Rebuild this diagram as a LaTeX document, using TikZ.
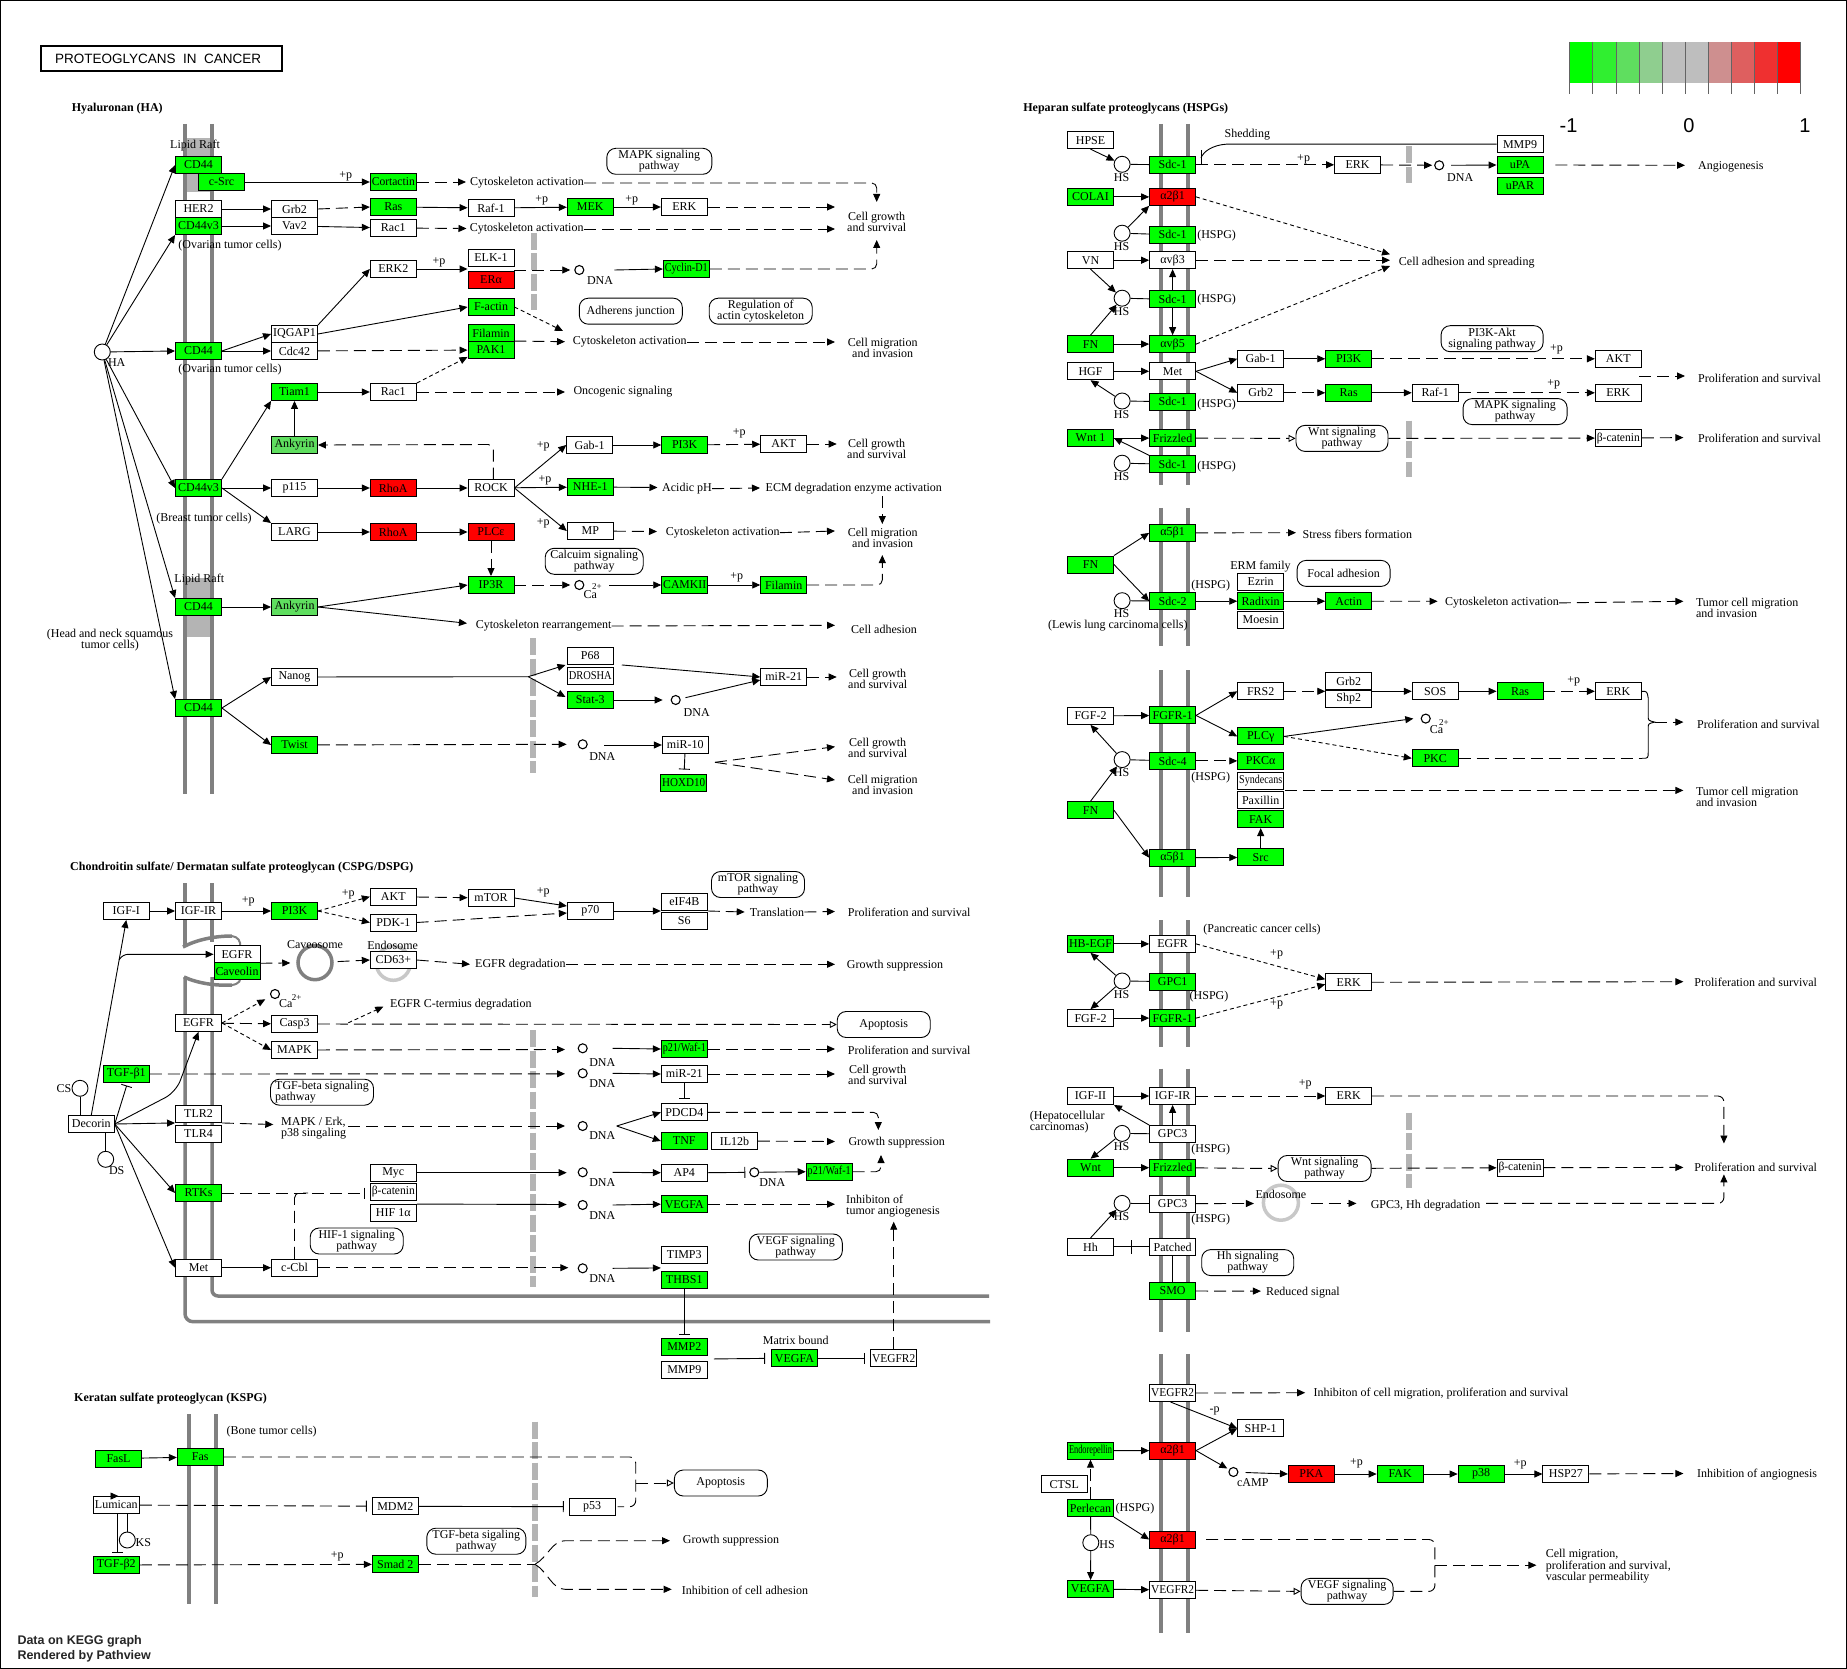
\documentclass[tikz,border=0pt]{standalone}
\usepackage{fontspec}
\setmainfont{Liberation Serif}
\newfontfamily\sansfont{Liberation Sans}
\usepackage{graphicx}
\usetikzlibrary{arrows.meta}

\definecolor{kg}{RGB}{0,255,0}
\definecolor{kr}{RGB}{255,0,0}
\definecolor{kl}{RGB}{95,222,95}
\definecolor{memc}{RGB}{128,128,128}
\definecolor{raftc}{RGB}{180,180,180}
\definecolor{endoc}{RGB}{200,200,200}
\definecolor{ltick}{RGB}{100,100,100}
\definecolor{lgA}{RGB}{0,255,0}
\definecolor{lgB}{RGB}{48,239,48}
\definecolor{lgC}{RGB}{95,222,95}
\definecolor{lgD}{RGB}{143,206,143}
\definecolor{lgE}{RGB}{190,190,190}
\definecolor{lgF}{RGB}{190,190,190}
\definecolor{lgG}{RGB}{206,143,143}
\definecolor{lgH}{RGB}{222,95,95}
\definecolor{lgI}{RGB}{239,48,48}
\definecolor{lgJ}{RGB}{255,0,0}

% squeeze a box label horizontally when it is wider than the box
\newsavebox\fitbx
\newdimen\fitw
\newcommand\fitt[1]{\sbox\fitbx{#1}\fitw=\wd\fitbx\ifdim\fitw>43pt\pgfmathsetmacro\fitr{43/\fitw}\scalebox{\fitr}[1]{\usebox\fitbx}\else\usebox\fitbx\fi}

\newcommand\boxG[3]{\node[gb] (#1) at (#2) {\fitt{#3}};}
\newcommand\boxW[3]{\node[wb] (#1) at (#2) {\fitt{#3}};}
\newcommand\boxR[3]{\node[rb] (#1) at (#2) {\fitt{#3}};}
\newcommand\boxL[3]{\node[lb] (#1) at (#2) {\fitt{#3}};}

\tikzset{
 box/.style={draw=black, line width=0.9pt, minimum width=46pt, minimum height=17pt, inner sep=0pt, font=\fontsize{12}{12}\selectfont},
 gb/.style={box, fill=kg}, wb/.style={box, fill=white}, rb/.style={box, fill=kr}, lb/.style={box, fill=kl},
 lab/.style={inner sep=0pt, font=\fontsize{12}{11}\selectfont, align=center},
 labw/.style={lab, anchor=west},
 labl/.style={lab, align=left, anchor=west},
 sup/.style={inner sep=0pt, font=\fontsize{9}{9}\selectfont},
 hd/.style={inner sep=0pt, anchor=west, font=\bfseries\fontsize{12}{12}\selectfont},
 pw/.style={draw, line width=0.9pt, rounded corners=9pt, inner sep=0pt, minimum height=26pt, font=\fontsize{12}{11}\selectfont, align=center},
 hc/.style={circle, draw, fill=white, line width=0.9pt, minimum size=16pt, inner sep=0pt},
 dc/.style={circle, draw, fill=white, line width=1.1pt, minimum size=9pt, inner sep=0pt},
 cn/.style={line width=0.9pt},
 act/.style={cn, -{Triangle[length=8pt,width=7pt]}},
 dsh/.style={dash pattern=on 12pt off 6pt},
 fdsh/.style={dash pattern=on 4pt off 3pt},
 dact/.style={act, dsh},
 fact/.style={act, fdsh},
 inh/.style={cn, -{Bar[width=11pt,line width=0.9pt]}},
 dinh/.style={inh, dsh},
 oact/.style={cn, dsh, -{Triangle[open,length=7pt,width=7pt,line width=0.9pt]}},
 dln/.style={cn, dsh},
 mem/.style={draw=memc, line width=3.5pt},
 thinmem/.style={draw=memc, line width=2pt},
 gbar/.style={draw=raftc, line width=6pt, dash pattern=on 17pt off 3.5pt},
 vesc/.style={circle, line width=3.5pt, minimum size=34pt, inner sep=0pt},
}

\begin{document}
\begin{tikzpicture}[x=1pt,y=-1pt]
\useasboundingbox (0,0) rectangle (1847,1669);
\fill[white] (0,0) rectangle (1847,1669);
\draw[line width=1.2pt] (0.6,0.6) rectangle (1846.4,1668.4);

% ---------- title, headings, legend ----------
\draw[line width=2pt] (40.7,45.7) rectangle (282.3,71);
\node[anchor=west, inner sep=0pt, font=\sansfont\fontsize{13.5}{13.5}\selectfont] (title) at (55,58.5) {PROTEOGLYCANS\ \ IN\ \ CANCER};
\node[hd] (h_ha) at (71.7,109) {Hyaluronan (HA)};
\node[hd] (h_cs) at (70,867.7) {Chondroitin sulfate/ Dermatan sulfate proteoglycan (CSPG/DSPG)};
\node[hd] (h_ks) at (74,1399) {Keratan sulfate proteoglycan (KSPG)};
\node[hd] (h_hs) at (1023.2,108.9) {Heparan sulfate proteoglycans (HSPGs)};

\foreach \c [count=\i from 0] in {lgA,lgB,lgC,lgD,lgE,lgF,lgG,lgH,lgI,lgJ}
  \fill[\c] (1569.9+\i*23.07,41.8) rectangle ++(23.07,41);
\foreach \i in {0,...,10}
  \draw[draw=ltick, line width=1pt] (1569.9+\i*23.07,41.8) -- (1569.9+\i*23.07,93.6);
\node[inner sep=0pt, font=\sansfont\fontsize{20}{20}\selectfont] (lg_m) at (1568.5,126) {-1};
\node[inner sep=0pt, font=\sansfont\fontsize{20}{20}\selectfont] (lg_z) at (1688.9,126) {0};
\node[inner sep=0pt, font=\sansfont\fontsize{20}{20}\selectfont] (lg_p) at (1805,126) {1};

\node[anchor=west, align=left, inner sep=0pt, text=black!85, font=\sansfont\bfseries\fontsize{12.5}{15}\selectfont] (pv) at (17.3,1649.2) {Data on KEGG graph\\Rendered by Pathview};

% ---------- membranes and rafts ----------
\fill[raftc] (186,138) rectangle (210,192);
\fill[raftc] (186,578) rectangle (210,637);
\draw[mem] (185,124) -- (185,794);
\draw[mem] (212,124) -- (212,794);

% plasma membrane with a caveola pocket
\draw[mem] (185,883.3) -- (185,947);
\draw[mem] (212,883.3) -- (212,942);
\draw[mem, rounded corners=8pt] (185,977) -- (185,1321.7) -- (990,1321.7);
\draw[mem, rounded corners=6pt] (212,977) -- (212,1296) -- (989,1296);
\draw[mem] (183,947) .. controls (196,940) and (214,936) .. (232,936);
\draw[thinmem] (232,936) .. controls (238,937) and (241,941) .. (240,947);
\draw[mem] (184,977) .. controls (197,983) and (215,986) .. (232,985);
\draw[thinmem] (232,985) .. controls (239,984) and (242,980) .. (239,976);

\draw[mem] (189,1414.3) -- (189,1604.3);
\draw[mem] (216,1414.3) -- (216,1604.3);

\foreach \a/\b in {124/484.6, 507.8/646.4, 670.3/897.1, 920.3/1047.1, 1068.5/1332.3, 1354/1632.7}{
  \draw[mem] (1161,\a) -- (1161,\b);
  \draw[mem] (1188,\a) -- (1188,\b);}

% nuclear envelope marks
\draw[gbar] (533.7,233) -- (533.7,310);
\draw[gbar] (532.7,638) -- (532.7,773);
\draw[gbar] (532.7,1030) -- (532.7,1287);
\draw[gbar] (535,1421.7) -- (535,1597.3);
\draw[gbar] (1408.9,146.4) -- (1408.9,182.8);
\draw[gbar] (1408.9,420.7) -- (1408.9,476.7);
\draw[gbar] (1408.9,1112.7) -- (1408.9,1188.2);

% ================= Hyaluronan =================
\boxG{ha_cd44a}{198.5,165}{CD44}
\boxG{ha_csrc}{221.5,182}{c-Src}
\boxW{ha_her2}{198.5,209}{HER2}
\boxG{ha_cd44v3a}{198.5,226}{CD44v3}
\boxW{ha_grb2}{294.5,209}{Grb2}
\boxW{ha_vav2}{294.5,226}{Vav2}
\boxG{ha_cort}{393.3,182}{Cortactin}
\boxG{ha_ras}{393.3,207}{Ras}
\boxW{ha_rac1a}{393.3,228}{Rac1}
\boxW{ha_raf1}{491,208}{Raf-1}
\boxG{ha_mek}{590.3,207}{MEK}
\boxW{ha_erk}{684.3,207}{ERK}
\boxW{ha_erk2}{393.3,269}{ERK2}
\boxW{ha_elk1}{491,258}{ELK-1}
\boxR{ha_era}{491,280}{ERα}
\boxG{ha_cyclin}{686.3,269}{Cyclin-D1}
\boxG{ha_factin}{491,307}{F-actin}
\boxG{ha_filamin}{491,333}{Filamin}
\boxG{ha_pak1}{491,350}{PAK1}
\boxW{ha_iqgap}{294.5,334}{IQGAP1}
\boxW{ha_cdc42}{294.5,351}{Cdc42}
\boxG{ha_cd44b}{198.5,351}{CD44}
\boxG{ha_tiam}{294.5,392}{Tiam1}
\boxW{ha_rac1b}{393.3,392}{Rac1}
\boxL{ha_ank1}{294.5,445}{Ankyrin}
\boxG{ha_cd44v3b}{198.5,488}{CD44v3}
\boxW{ha_p115}{294.5,488}{p115}
\boxR{ha_rhoa1}{393.3,488}{RhoA}
\boxW{ha_rock}{491,488}{ROCK}
\boxW{ha_larg}{294.5,532}{LARG}
\boxR{ha_rhoa2}{393.3,532}{RhoA}
\boxR{ha_plce}{491,532}{PLCε}
\boxG{ha_ip3r}{491,585}{IP3R}
\boxW{ha_gab1}{589.7,445}{Gab-1}
\boxG{ha_pi3k}{684.7,445}{PI3K}
\boxW{ha_akt}{783.7,444}{AKT}
\boxG{ha_nhe}{590.3,487}{NHE-1}
\boxW{ha_mp}{590.3,531}{MP}
\boxG{ha_camk}{684.7,585}{CAMKII}
\boxG{ha_fil2}{783.7,585}{Filamin}
\boxG{ha_cd44c}{198.5,607}{CD44}
\boxL{ha_ank2}{294.5,607}{Ankyrin}
\boxG{ha_cd44d}{198.5,708}{CD44}
\boxW{ha_nanog}{294.5,677}{Nanog}
\boxG{ha_twist}{294.5,745}{Twist}
\boxW{ha_p68}{590.3,656}{P68}
\boxW{ha_drosha}{590.3,676}{DROSHA}
\boxG{ha_stat3}{590.3,700}{Stat-3}
\boxW{ha_mir21}{783.7,677}{miR-21}
\boxW{ha_mir10}{685.3,745}{miR-10}
\boxG{ha_hoxd}{683.7,783}{HOXD10}

\node[hc] (ha) at (102.3,352) {};
\node[lab] (ha_l) at (116.7,363) {HA};
\node[dc] (ha_d1) at (579.3,270) {};
\node[lab] (ha_d1l) at (600,281) {DNA};
\node[dc] (ha_ca) at (579.3,585) {};
\node[lab] (ha_cal) at (590.3,595) {Ca};
\node[sup] (ha_ca2) at (597,587) {2+};
\node[dc] (ha_d2) at (675.7,700) {};
\node[lab] (ha_d2l) at (696.7,712.3) {DNA};
\node[dc] (ha_d3) at (582.7,744.3) {};
\node[lab] (ha_d3l) at (602.3,756.7) {DNA};

\node[lab] (ha_lr1) at (195,146) {Lipid Raft};
\node[lab] (ha_ov1) at (230,246) {(Ovarian tumor cells)};
\node[lab] (ha_ov2) at (230,370) {(Ovarian tumor cells)};
\node[lab] (ha_br) at (204,519) {(Breast tumor cells)};
\node[lab] (ha_lr2) at (199.3,580) {Lipid Raft};
\node[lab] (ha_hn) at (110,640) {(Head and neck squamous\\tumor cells)};
\node[labw] (ha_cy1) at (470,183) {Cytoskeleton activation};
\node[labw] (ha_cy2) at (469.7,229) {Cytoskeleton activation};
\node[lab] (ha_cg1) at (876.7,222) {Cell growth\\and survival};
\node[labw] (ha_cy3) at (572.7,342) {Cytoskeleton activation};
\node[lab] (ha_cm1) at (882.7,348.3) {Cell migration\\and invasion};
\node[labw] (ha_onc) at (573.3,392) {Oncogenic signaling};
\node[lab] (ha_cg2) at (876.7,449.3) {Cell growth\\and survival};
\node[lab] (ha_acid) at (687,488.7) {Acidic pH};
\node[lab] (ha_ecm) at (853.8,488.3) {ECM degradation enzyme activation};
\node[lab] (ha_cm2) at (882.7,537.7) {Cell migration\\and invasion};
\node[lab] (ha_cy4) at (722.8,532.7) {Cytoskeleton activation};
\node[labw] (ha_cyr) at (475.7,626) {Cytoskeleton rearrangement};
\node[lab] (ha_cad) at (884,629) {Cell adhesion};
\node[lab] (ha_cg3) at (877.7,679.3) {Cell growth\\and survival};
\node[lab] (ha_cg4) at (877.7,748.3) {Cell growth\\and survival};
\node[lab] (ha_cm3) at (882.7,785) {Cell migration\\and invasion};
\node[lab] (ha_p1) at (345.7,176) {+p};
\node[lab] (ha_p2) at (439,262) {+p};
\node[lab] (ha_p3) at (541.7,200) {+p};
\node[lab] (ha_p4) at (631.7,200) {+p};
\node[lab] (ha_p5) at (543.3,446) {+p};
\node[lab] (ha_p6) at (545,480) {+p};
\node[lab] (ha_p7) at (543.3,523.3) {+p};
\node[lab] (ha_p8) at (739.3,433) {+p};
\node[lab] (ha_p9) at (736.7,577) {+p};

\node[pw, minimum width=105pt] (ha_pmapk) at (659.3,161.3) {MAPK signaling\\pathway};
\node[pw, minimum width=103pt] (ha_padh) at (630.8,311.2) {Adherens junction};
\node[pw, minimum width=103pt] (ha_preg) at (760.7,311.2) {Regulation of\\actin cytoskeleton};
\node[pw, minimum width=98pt] (ha_pcal) at (594.2,561.3) {Calcuim signaling\\pathway};

\draw[act] (ha) -- (ha_cd44a.west);
\draw[act] (ha) -- (ha_cd44v3a.south west);
\draw[act] (ha) -- (ha_cd44b.west);
\draw[act] (ha) -- (ha_cd44v3b.west);
\draw[act] (ha) -- (ha_cd44c.north west);
\draw[act] (ha) -- (ha_cd44d.north west);
\draw[act] (ha_csrc) -- (ha_cort);
\draw[act] (ha_her2) -- (ha_grb2);
\draw[act] (ha_cd44v3a) -- (ha_vav2);
\draw[dact] (ha_grb2.east) -- (ha_ras.west);
\draw[act] (ha_vav2) -- (ha_rac1a);
\draw[dact] (ha_cort) -- (466,182);
\draw[dact] (ha_rac1a) -- (466.5,228.5);
\draw[act] (ha_ras) -- (ha_raf1);
\draw[act] (ha_raf1) -- (ha_mek);
\draw[act] (ha_mek) -- (ha_erk);
\draw[dact] (ha_erk) -- (835,207);
\draw[dact, rounded corners=5pt] (ha_cy1.east) -- (876.7,183) -- (876.7,202);
\draw[dact] (ha_cy2.east) -- (835,229);
\draw[act] (ha_cd44b.east) -- (ha_iqgap.west);
\draw[act] (ha_cd44b) -- (ha_cdc42);
\draw[act] (ha_iqgap.north east) -- (ha_erk2.west);
\draw[act] (ha_iqgap.east) -- (ha_factin.west);
\draw[dact] (ha_cdc42) -- (ha_pak1);
\draw[act] (ha_erk2) -- (ha_erk2 -| ha_elk1.west);
\draw[dact, shorten >=4pt] (ha_d1 -| ha_elk1.east) -- (ha_d1);
\draw[act] ([xshift=35pt]ha_d1.center) -- (ha_cyclin.west);
\draw[dact, rounded corners=5pt] (ha_cyclin.east) -- (876.7,269) -- (876.7,240);
\draw[fact] (ha_factin.east) -- (563,331);
\draw[dact] (ha_pak1.north east) -- (565,341.7);
\draw[dact] (ha_cy3.east) -- (835,342);
\draw[dact] (ha_rac1b) -- (565,392);
\draw[fact] (ha_rac1b.north east) -- ([yshift=2pt]ha_pak1.south west);
\draw[act] (ha_cd44v3b.north east) -- (ha_tiam.south west);
\draw[act] (ha_tiam) -- (ha_rac1b);
\draw[act] (ha_ank1) -- (ha_tiam);
\draw[act] (ha_cd44v3b) -- (ha_p115);
\draw[act] (ha_cd44v3b.east) -- (ha_larg.north west);
\draw[act] (ha_p115) -- (ha_rhoa1);
\draw[act] (ha_rhoa1) -- (ha_rock);
\draw[act] (ha_larg) -- (ha_rhoa2);
\draw[act] (ha_rhoa2) -- (ha_plce);
\draw[dact] (ha_plce) -- (ha_ip3r);
\draw[dact, rounded corners=5pt] (493.3,479.5) -- (493.3,444.5) -- (ha_ank1.east);
\draw[act] (ha_rock.east) -- (ha_gab1.west);
\draw[act] (ha_rock) -- (ha_nhe);
\draw[act] (ha_rock.east) -- (ha_mp.west);
\draw[act] (ha_gab1) -- (ha_pi3k);
\draw[dact] (ha_pi3k) -- (ha_akt);
\draw[dact] (ha_akt) -- (836.7,444);
\draw[act] (ha_nhe) -- (657.5,487.5);
\draw[dact] (ha_acid.east) -- (760,488);
\draw[dact] (882.3,496) -- (882.3,524);
\draw[dact] (ha_mp) -- (657,531.5);
\draw[dact] (ha_cy4.east) -- (835,531);
\draw[dact, shorten >=4pt] (ha_ip3r) -- (ha_ca);
\draw[act] (609,585) -- (ha_camk.west);
\draw[act] (ha_camk) -- (ha_fil2);
\draw[dact, rounded corners=5pt] (ha_fil2.east) -- (882.3,585) -- (882.3,555);
\draw[act] (ha_cd44c) -- (ha_ank2);
\draw[act] (ha_ank2.east) -- (ha_ip3r.west);
\draw[act] (ha_ank2.east) -- (467,623.3);
\draw[dact] (ha_cyr.east) -- (835,625.3);
\draw[act] (ha_cd44d.east) -- (ha_nanog.west);
\draw[act] (ha_cd44d.east) -- (ha_twist.west);
\coordinate (ha_nb) at (528.3,676.7);
\draw[cn] (ha_nanog) -- (ha_nb);
\draw[act] (ha_nb) -- (565.5,665);
\draw[act] (ha_nb) -- (565.5,697);
\draw[act] ([xshift=8pt]ha_p68.south east) -- (ha_mir21.west);
\draw[act, shorten >=8pt] (ha_stat3) -- (ha_d2);
\draw[act, shorten <=5pt] (ha_d2) -- ([yshift=-3pt]ha_mir21.west);
\draw[dact] (ha_mir21) -- (836.7,677);
\draw[dact] (ha_twist) -- (566.7,744.3);
\draw[act] (604,745) -- (ha_mir10.west);
\draw[inh, shorten >=4.5pt] (ha_mir10) -- (ha_hoxd);
\coordinate (ha_mb) at (715,762.3);
\draw[dact] (ha_mb) -- (835,746.7);
\draw[dact] (ha_mb) -- (835,780);

% ================= CSPG / DSPG =================
\node[vesc, draw=memc] (cs_cvs) at (315,962.7) {};
\node[vesc, draw=endoc] (cs_endo) at (393.3,963.3) {};
\boxW{cs_igf1}{126.3,911}{IGF-I}
\boxW{cs_igf1r}{198.5,911}{IGF-IR}
\boxG{cs_pi3k}{294.5,911}{PI3K}
\boxW{cs_akt}{393.3,896.7}{AKT}
\boxW{cs_pdk1}{393.3,922.5}{PDK-1}
\boxW{cs_mtor}{491,898}{mTOR}
\boxW{cs_p70}{590.3,911}{p70}
\boxW{cs_eif}{684.3,901.5}{eIF4B}
\boxW{cs_s6}{684.3,921}{S6}
\boxW{cs_egfr1}{237,954.3}{EGFR}
\boxG{cs_cav}{237,971.3}{Caveolin}
\boxW{cs_cd63}{393.3,960}{CD63+}
\boxW{cs_egfr2}{198.5,1023}{EGFR}
\boxW{cs_casp3}{294.5,1024}{Casp3}
\boxW{cs_mapk}{294.5,1050}{MAPK}
\boxG{cs_tgfb1}{126.3,1074}{TGF-β1}
\boxW{cs_dec}{91.3,1124}{Decorin}
\boxW{cs_tlr2}{198.5,1114}{TLR2}
\boxW{cs_tlr4}{198.5,1134}{TLR4}
\boxG{cs_rtks}{198.5,1193}{RTKs}
\boxW{cs_myc}{393.3,1172.7}{Myc}
\boxW{cs_bcat}{393.3,1192}{β-catenin}
\boxW{cs_hif}{393.3,1213}{HIF 1α}
\boxW{cs_met}{198.5,1267.7}{Met}
\boxW{cs_ccbl}{294.5,1267.7}{c-Cbl}
\boxG{cs_p21a}{684.3,1049}{p21/Waf-1}
\boxW{cs_mir21}{684.3,1074}{miR-21}
\boxW{cs_pdcd4}{684.3,1112.3}{PDCD4}
\boxG{cs_tnf}{684.3,1141}{TNF}
\boxW{cs_il12}{734.5,1141}{IL12b}
\boxW{cs_ap4}{684.3,1172.7}{AP4}
\boxG{cs_p21b}{829.2,1171.7}{p21/Waf-1}
\boxG{cs_vegfa}{684.3,1204.2}{VEGFA}
\boxW{cs_timp3}{684.3,1255}{TIMP3}
\boxG{cs_thbs1}{684.3,1280}{THBS1}
\boxG{cs_mmp2}{684.3,1347}{MMP2}
\boxW{cs_mmp9}{684.3,1369.7}{MMP9}
\boxG{cs_vegfa2}{794.5,1358.3}{VEGFA}
\boxW{cs_vegfr2}{893.7,1358.3}{VEGFR2}

\node[lab] (cs_cvsl) at (315,945) {Caveosome};
\node[lab] (cs_endl) at (392.7,945) {Endosome};
\node[dc] (cs_ca) at (275,994) {};
\node[lab] (cs_cal) at (285.7,1004) {Ca};
\node[sup] (cs_ca2) at (296.7,997.7) {2+};
\node[hc] (cs_cs) at (80,1088.3) {};
\node[lab] (cs_csl) at (64,1088.3) {CS};
\node[hc] (cs_ds) at (105.7,1159.3) {};
\node[lab] (cs_dsl) at (116.7,1171) {DS};
\foreach \n/\x/\y/\ly in {cs_d1/582.7/1048.3/1062.3, cs_d2/582.7/1073.3/1083.3, cs_d3/582.7/1126/1136, cs_d4/582.7/1172.3/1182.3, cs_d6/582.7/1205/1215.7, cs_d7/582.7/1268.3/1279}{
  \node[dc] (\n) at (\x,\y) {};
  \node[lab] (\n l) at (\x+19.6,\ly) {DNA};}
\node[dc] (cs_d5) at (754.3,1172.3) {};
\node[lab] (cs_d5l) at (772.3,1182.3) {DNA};

\node[labw] (cs_egd) at (475,964.3) {EGFR degradation};
\node[labw] (cs_gs1) at (846.7,965.7) {Growth suppression};
\node[labw] (cs_ctd) at (390,1004.3) {EGFR C-termius degradation};
\node[labw] (cs_pf1) at (847.7,912.7) {Proliferation and survival};
\node[lab] (cs_tr) at (777,912) {Translation};
\node[pw, minimum width=93pt] (cs_apop) at (883.7,1024.5) {Apoptosis};
\node[labw] (cs_pf2) at (847.7,1050) {Proliferation and survival};
\node[lab] (cs_cg) at (877.7,1075) {Cell growth\\and survival};
\node[labl] (cs_me) at (281,1128.3) {MAPK / Erk,\\p38 singaling};
\node[labw] (cs_gs2) at (848.3,1142.7) {Growth suppression};
\node[labl] (cs_inh) at (846,1205.7) {Inhibiton of\\tumor angiogenesis};
\node[lab] (cs_mbd) at (795.7,1340) {Matrix bound};
\node[pw, minimum width=93pt] (cs_pmtor) at (758,884.5) {mTOR signaling\\pathway};
\node[pw, minimum width=103pt, align=left] (cs_ptgf) at (322,1092.2) {TGF-beta signaling\\pathway};
\node[pw, minimum width=93pt] (cs_phif) at (356.7,1241) {HIF-1 signaling\\pathway};
\node[pw, minimum width=93pt] (cs_pvegf) at (795.8,1247) {VEGF signaling\\pathway};
\node[lab] (cs_p1) at (248.3,901.7) {+p};
\node[lab] (cs_p2) at (348.3,894) {+p};
\node[lab] (cs_p3) at (543.3,892.7) {+p};

\draw[act] (cs_igf1) -- (cs_igf1r);
\draw[act] (cs_igf1r) -- (cs_pi3k);
\draw[fact] (cs_pi3k.east) -- (cs_akt.west);
\draw[fact] (cs_pi3k.east) -- (cs_pdk1.west);
\draw[dact] (cs_akt) -- (cs_mtor);
\draw[act] (cs_mtor.east) -- ([yshift=5pt]cs_p70.west);
\draw[dact] (cs_pdk1.east) -- ([yshift=-2pt]cs_p70.west);
\draw[act] (cs_p70) -- (cs_p70 -| cs_eif.west);
\draw[dact] (cs_p70 -| cs_eif.east) -- ([xshift=-5pt]cs_tr.west);
\draw[dact] (cs_tr.east) -- (835,911.5);
\draw[act] (cs_dec.north) -- (cs_igf1.south);
\draw[act, rounded corners=5pt] (119.1,960) -- (123,954.3) -- (cs_egfr1.west);
\draw[dact, shorten >=6pt] (cs_egfr1.south east) -- (cs_cvs);
\draw[dact, shorten <=4pt] (cs_cvs) -- (cs_cd63.west);
\draw[dact] (cs_cd63.east) -- (470,964.3);
\draw[dact] (cs_egd.east) -- (835,964.3);
\draw[act, rounded corners=12pt] (cs_dec.east) -- (176,1092) -- (cs_egfr2.south);
\draw[fact, shorten >=6pt] (cs_egfr2.east) -- (cs_ca);
\draw[dact] (cs_egfr2) -- (cs_casp3);
\draw[fact] (cs_egfr2.east) -- (cs_mapk.west);
\draw[oact] (cs_casp3) -- (cs_apop.west);
\draw[fact] (348.3,1022.8) -- (383.3,1006.7);
\draw[dact] (cs_mapk) -- (565,1049.5);
\draw[act] ([xshift=30pt]cs_d1.center) -- (cs_p21a.west);
\draw[dact] (cs_p21a) -- (835,1049);
\draw[dact] (cs_tgfb1.east) -- (565,1073.8);
\draw[act] ([xshift=30pt]cs_d2.center) -- (cs_mir21.west);
\draw[dact] (cs_mir21) -- (835,1074);
\draw[inh, shorten >=4pt] (cs_mir21) -- (cs_pdcd4);
\draw[inh] (cs_dec.east) -- (126.7,1085.5);
\draw[cn] (cs_cs.south) -- (cs_cs.south |- cs_dec.north);
\draw[cn] (cs_ds.north) -- (cs_ds.north |- cs_dec.south);
\draw[act] (cs_dec.east) -- (cs_tlr2.south west);
\draw[dact] (cs_tlr2.south east) -- (273.3,1124.5);
\draw[dact] (348.3,1126) -- (565,1126);
\coordinate (cs_tb) at (616.7,1126);
\draw[act] (cs_tb) -- (cs_pdcd4.west);
\draw[act] (cs_tb) -- (cs_tnf.west);
\draw[dact] (cs_il12) -- (835,1141.5);
\draw[dact, rounded corners=5pt] (cs_pdcd4.east) -- (878.3,1112.3) -- (878.3,1130);
\draw[act] (cs_dec.east) -- (cs_rtks.west);
\draw[act] (cs_dec.east) -- (cs_met.west);
\draw[dinh, shorten >=5pt] (cs_rtks.east) -- (cs_rtks.east -| cs_bcat.west);
\draw[dln, rounded corners=5pt] (cs_ccbl.north) -- (294.5,1193) -- (308,1193);
\draw[act] (cs_myc.east) -- (566.7,1172.7);
\draw[act] (cs_hif.north east) -- (566.7,1204.5);
\draw[act] ([xshift=30pt]cs_d4.center) -- (cs_ap4.west);
\draw[inh, shorten >=4pt] (cs_ap4.east) -- (cs_d5);
\draw[act] (cs_d5) -- (cs_p21b.west);
\draw[dact, rounded corners=5pt] (cs_p21b.east) -- (881,1171.7) -- (881,1155);
\draw[act] ([xshift=30pt]cs_d6.center) -- (cs_vegfa.west);
\draw[dact] (cs_vegfa) -- (835,1204.2);
\draw[act] (cs_met) -- (cs_ccbl);
\draw[dact] (cs_ccbl) -- (568.3,1267.7);
\draw[act] ([xshift=30pt]cs_d7.center) -- ([yshift=-4pt]cs_timp3.south west);
\draw[inh, shorten >=3.5pt] (cs_thbs1) -- (cs_mmp2);
\draw[inh, shorten >=6pt] ([xshift=6pt,yshift=-3pt]cs_mmp2.south east) -- (cs_vegfa2.west);
\draw[inh, shorten >=5pt] (cs_vegfa2) -- (cs_vegfr2);
\draw[dact] (cs_vegfr2.north) -- (893.7,1221.7);

% ================= KSPG =================
\boxG{ks_fasl}{118.5,1458.5}{FasL}
\boxG{ks_fas}{200.3,1457}{Fas}
\boxW{ks_lum}{116.3,1505}{Lumican}
\boxW{ks_mdm2}{395.3,1506.3}{MDM2}
\boxW{ks_p53}{592.2,1506.7}{p53}
\boxG{ks_tgfb2}{116.3,1565}{TGF-β2}
\boxG{ks_smad}{395.3,1564.3}{Smad 2}
\node[hc] (ks_ks) at (127.3,1540) {};
\node[lab] (ks_ksl) at (143.3,1542.3) {KS};
\node[pw, minimum width=93pt] (ks_apop) at (720.8,1483) {Apoptosis};
\node[pw, minimum width=99pt] (ks_ptgf) at (476.3,1541.2) {TGF-beta sigaling\\pathway};
\node[lab] (ks_bone) at (271.7,1432) {(Bone tumor cells)};
\node[labw] (ks_gs) at (682.7,1540.7) {Growth suppression};
\node[labw] (ks_ica) at (681.7,1590) {Inhibition of cell adhesion};
\node[lab] (ks_pp) at (337.3,1556.7) {+p};

\draw[act] (ks_fasl) -- (ks_fas);
\draw[act] (ks_lum.north) -- (ks_lum.north -| ks_fasl.south);
\draw[dinh, shorten >=5pt] (ks_lum) -- (ks_mdm2);
\draw[inh, shorten >=5pt] (ks_mdm2) -- (ks_p53);
\draw[cn] (127.3,1513.5) -- (ks_ks.north);
\draw[inh] (117.3,1513.5) -- (117.3,1553.3);
\draw[dact] (ks_tgfb2) -- (ks_smad);
\draw[dln, rounded corners=6pt] (ks_fas.east) -- (635.7,1457) -- (635.7,1506.7) -- ([xshift=2pt]ks_p53.east);
\draw[oact] (635.7,1483) -- (ks_apop.west);
\coordinate (ks_sb) at (535,1564.3);
\draw[dln] (ks_smad.east) -- (ks_sb);
\draw[dact] (ks_sb) .. controls (548,1557) and (552,1540.7) .. (565,1540.7) -- (670,1540.7);
\draw[dact] (ks_sb) .. controls (548,1572) and (552,1589.3) .. (565,1589.3) -- (671.7,1589.3);

% ================= HSPG =================
\node[vesc, draw=endoc, minimum size=35pt] (hs_endoc) at (1280.9,1202.7) {};
\boxW{hs_hpse}{1090.5,140.2}{HPSE}
\boxG{hs_sdc1a}{1172.6,164.8}{Sdc-1}
\boxW{hs_mmp9}{1520,144.1}{MMP9}
\boxW{hs_erk1}{1357.6,164.8}{ERK}
\boxG{hs_upa}{1520,165}{uPA}
\boxG{hs_upar}{1520,185.8}{uPAR}
\boxG{hs_colai}{1090.5,196.9}{COLAI}
\boxR{hs_a2b1a}{1172.6,196.9}{α2β1}
\boxG{hs_sdc1b}{1172.6,234.8}{Sdc-1}
\boxW{hs_vn}{1090.5,260.2}{VN}
\boxW{hs_avb3}{1172.6,260.2}{αvβ3}
\boxG{hs_sdc1c}{1172.6,299.4}{Sdc-1}
\boxG{hs_fn1}{1090.5,344.1}{FN}
\boxG{hs_avb5}{1172.6,344.1}{αvβ5}
\boxW{hs_hgf}{1090.5,371.3}{HGF}
\boxW{hs_met}{1172.6,371.3}{Met}
\boxG{hs_sdc1d}{1172.6,401.7}{Sdc-1}
\boxW{hs_gab1}{1260.7,358.8}{Gab-1}
\boxG{hs_pi3k}{1348.7,358.8}{PI3K}
\boxW{hs_akt}{1618.3,358.8}{AKT}
\boxW{hs_grb2}{1260.7,392.8}{Grb2}
\boxG{hs_ras}{1348.7,392.8}{Ras}
\boxW{hs_raf1}{1435.2,392.8}{Raf-1}
\boxW{hs_erk2}{1618.3,392.8}{ERK}
\boxG{hs_wnt1}{1090.5,438.1}{Wnt 1}
\boxG{hs_fzd1}{1172.6,438.1}{Frizzled}
\boxG{hs_sdc1e}{1172.6,464.3}{Sdc-1}
\boxW{hs_bcat1}{1618.3,438.1}{β-catenin}
\boxG{hs_a5b1a}{1172.6,532.9}{α5β1}
\boxG{hs_fn2}{1090.5,564.5}{FN}
\boxG{hs_sdc2}{1172.6,601.2}{Sdc-2}
\boxW{hs_ezrin}{1260.7,582}{Ezrin}
\boxG{hs_radixin}{1260.7,601.2}{Radixin}
\boxW{hs_moesin}{1260.7,620}{Moesin}
\boxG{hs_actin}{1348.7,601.2}{Actin}
\boxW{hs_fgf2a}{1090.5,715.9}{FGF-2}
\boxG{hs_fgfr1a}{1172.6,715.4}{FGFR-1}
\boxG{hs_sdc4}{1172.6,760.9}{Sdc-4}
\boxG{hs_fn3}{1090.5,810.2}{FN}
\boxG{hs_a5b1b}{1172.6,857.7}{α5β1}
\boxW{hs_frs2}{1260.7,691.3}{FRS2}
\boxW{hs_grb2b}{1348.7,681.1}{Grb2}
\boxW{hs_shp2}{1348.7,698.9}{Shp2}
\boxW{hs_sos}{1435.2,691.3}{SOS}
\boxG{hs_ras2}{1520,691.3}{Ras}
\boxW{hs_erk3}{1618.3,691.3}{ERK}
\boxG{hs_plcg}{1260.7,736.4}{PLCγ}
\boxG{hs_pkc}{1435.2,758.3}{PKC}
\boxG{hs_pkca}{1260.7,760.9}{PKCα}
\boxW{hs_synd}{1260.7,780.6}{Syndecans}
\boxW{hs_pax}{1260.7,800.1}{Paxillin}
\boxG{hs_fak1}{1260.7,819.1}{FAK}
\boxG{hs_src}{1260.7,857.4}{Src}
\boxG{hs_hbegf}{1090.5,943.9}{HB-EGF}
\boxW{hs_egfr}{1172.6,943.9}{EGFR}
\boxG{hs_gpc1}{1172.6,981.6}{GPC1}
\boxW{hs_fgf2b}{1090.5,1018.1}{FGF-2}
\boxG{hs_fgfr1b}{1172.6,1018.1}{FGFR-1}
\boxW{hs_erk4}{1348.7,982.3}{ERK}
\boxW{hs_igf2}{1090.5,1096}{IGF-II}
\boxW{hs_igf1r}{1172.6,1096}{IGF-IR}
\boxW{hs_erk5}{1348.7,1096}{ERK}
\boxW{hs_gpc3a}{1172.6,1134}{GPC3}
\boxG{hs_wnt}{1090.5,1167.7}{Wnt}
\boxG{hs_fzd2}{1172.6,1167.7}{Frizzled}
\boxW{hs_bcat2}{1520,1167.7}{β-catenin}
\boxW{hs_gpc3b}{1172.6,1203.6}{GPC3}
\boxW{hs_hh}{1090.5,1246.9}{Hh}
\boxW{hs_ptch}{1172.6,1246.9}{Patched}
\boxG{hs_smo}{1172.6,1291}{SMO}
\boxW{hs_vegfr2a}{1172.6,1393.1}{VEGFR2}
\boxW{hs_shp1}{1260.7,1428.4}{SHP-1}
\boxG{hs_endo}{1090.5,1450.7}{Endorepellin}
\boxR{hs_a2b1b}{1172.6,1450.6}{α2β1}
\boxR{hs_pka}{1311.4,1474}{PKA}
\boxG{hs_fak2}{1400.1,1474}{FAK}
\boxG{hs_p38}{1481.1,1474}{p38}
\boxW{hs_hsp27}{1565.9,1474}{HSP27}
\boxW{hs_ctsl}{1064.3,1484.1}{CTSL}
\boxG{hs_perl}{1090.5,1508.1}{Perlecan}
\boxR{hs_a2b1c}{1172.6,1539.5}{α2β1}
\boxG{hs_vegfa}{1090.5,1589}{VEGFA}
\boxW{hs_vegfr2b}{1172.6,1590}{VEGFR2}

\foreach \n/\y in {hc1/164.3, hc2/233.2, hc3/298.2, hc4/401, hc5/463.2, hc6/600.7, hc7/759.6, hc8/981, hc9/1133.4, hc10/1203.4}{
  \node[hc] (\n) at (1122.1,\y) {};
  \node[lab] (\n l) at (1121.5,\y+13.2) {HS};}
\node[hc] (hc11) at (1090.8,1542.7) {};
\node[lab] (hc11l) at (1107,1544.6) {HS};
\node[dc] (hs_dna) at (1439.2,165.3) {};
\node[lab] (hs_dnal) at (1460.2,177.5) {DNA};
\node[dc] (hs_ca) at (1425.7,718.6) {};
\node[lab] (hs_cal) at (1436.5,729.3) {Ca};
\node[sup] (hs_ca2) at (1444,722.1) {2+};
\node[dc] (hs_camp) at (1233.4,1472) {};
\node[lab] (hs_campl) at (1252.8,1482.1) {cAMP};

\node[lab] (hs_shed) at (1247.4,135) {Shedding};
\node[labw] (hs_ang) at (1698,167.1) {Angiogenesis};
\node[labw] (hs_cas) at (1398.7,262.8) {Cell adhesion and spreading};
\foreach \n/\x/\y in {hs_h1/1216.6/235.7, hs_h2/1216.6/299.7, hs_h3/1216.6/404.9, hs_h4/1216.6/467, hs_h5/1210.7/585.7, hs_h6/1210.7/777.5, hs_h7/1209/997.1, hs_h8/1210.7/1149.7, hs_h9/1210.7/1219.8, hs_h10/1135/1509}
  \node[lab] (\n) at (\x,\y) {(HSPG)};
\node[labw] (hs_pf1) at (1698,378.5) {Proliferation and survival};
\node[labw] (hs_pf2) at (1698,438.5) {Proliferation and survival};
\node[labw] (hs_sff) at (1302.5,533.9) {Stress fibers formation};
\node[lab] (hs_llc) at (1117.8,625.7) {(Lewis lung carcinoma cells)};
\node[lab] (hs_erm) at (1260.4,566.8) {ERM family};
\node[lab] (hs_cya) at (1501.9,602.9) {Cytoskeleton activation};
\node[labl] (hs_tcm1) at (1695.8,607.5) {Tumor cell migration\\and invasion};
\node[labw] (hs_pf3) at (1696.9,723.9) {Proliferation and survival};
\node[labl] (hs_tcm2) at (1695.8,797) {Tumor cell migration\\and invasion};
\node[lab] (hs_panc) at (1262,929.2) {(Pancreatic cancer cells)};
\node[labw] (hs_pf4) at (1694.2,982.8) {Proliferation and survival};
\node[labl] (hs_hep) at (1029.7,1121.8) {(Hepatocellular\\carcinomas)};
\node[labw] (hs_pf5) at (1694.2,1167.1) {Proliferation and survival};
\node[lab] (hs_endl) at (1280.9,1194.4) {Endosome};
\node[labw] (hs_gpcd) at (1370.6,1205.2) {GPC3, Hh degradation};
\node[labw] (hs_red) at (1265.8,1292.3) {Reduced signal};
\node[labw] (hs_inh) at (1313.3,1393.2) {Inhibiton of cell migration, proliferation and survival};
\node[lab] (hs_mp) at (1214.5,1411) {-p};
\node[labw] (hs_ia) at (1696.9,1474.9) {Inhibition of angiognesis};
\node[labl] (hs_cmp) at (1545.6,1566.3) {Cell migration,\\proliferation and survival,\\vascular permeability};
\foreach \n/\x/\y in {hs_p1/1303.6/158.9, hs_p2/1556.4/349.2, hs_p3/1553.7/384.6, hs_p4/1573.7/681, hs_p5/1276.6/954.2, hs_p6/1276.6/1004.2, hs_p7/1305.2/1084.6, hs_p8/1356.5/1462.9, hs_p9/1520.2/1464.7}
  \node[lab] (\n) at (\x,\y) {+p};

\node[pw, minimum width=102pt] (hs_ppi3k) at (1492.1,338.7) {PI3K-Akt\\signaling pathway};
\node[pw, minimum width=104pt] (hs_pmapk) at (1515.1,411.6) {MAPK signaling\\pathway};
\node[pw, minimum width=92pt] (hs_pwnt1) at (1342,438.4) {Wnt signaling\\pathway};
\node[pw, minimum width=93pt] (hs_pfa) at (1343.6,573.4) {Focal adhesion};
\node[pw, minimum width=93pt] (hs_pwnt2) at (1324.6,1168.5) {Wnt signaling\\pathway};
\node[pw, minimum width=92pt] (hs_phh) at (1247.7,1262.6) {Hh signaling\\pathway};
\node[pw, minimum width=92pt] (hs_pvegf) at (1347.1,1591.4) {VEGF signaling\\pathway};

\draw[act] (hs_hpse.south) -- (hc1);
\draw[cn] (hc1) -- (hs_sdc1a);
\draw[cn] (hs_mmp9.west) -- (1227,144.1) .. controls (1212,145) and (1203,152) .. (1201,158);
\draw[cn] (1201,150) -- (1201,164);
\draw[dact] (hs_sdc1a) -- (hs_erk1);
\draw[dact, shorten >=2pt] (hs_erk1) -- (hs_dna);
\draw[act] (1451,165.3) -- (hs_upa.west);
\draw[dact] ([xshift=12pt]hs_upa.east) -- (1685,165.3);
\draw[act] (hs_colai) -- (hs_a2b1a);
\draw[act] (hc2) -- (hs_a2b1a.south west);
\draw[cn] (hc2) -- (hs_sdc1b);
\draw[fact] (hs_a2b1a.east) -- (1390,254.3);
\draw[act] (hs_vn) -- (hs_avb3);
\draw[dact] (hs_avb3) -- (1390,260.2);
\draw[act] (hs_vn.south) -- (hc3);
\draw[cn] (hc3) -- (hs_sdc1c);
\draw[act] (hs_sdc1c) -- (hs_avb3);
\draw[act] (hs_sdc1c) -- (hs_avb5);
\draw[act] (hs_fn1.north) -- (hc3);
\draw[act] (hs_fn1) -- (hs_avb5);
\draw[fact] (hs_avb5.east) -- (1390,266);
\draw[act] (hs_hgf) -- (hs_met);
\draw[act] (hc4) -- (hs_hgf.south);
\draw[cn] (hc4) -- (hs_sdc1d);
\draw[act] (hs_met.east) -- (hs_gab1.west);
\draw[act] (hs_met.east) -- (hs_grb2.west);
\draw[act] (hs_gab1) -- (hs_pi3k);
\draw[dact] (hs_pi3k) -- (hs_akt);
\draw[dact] (1639,376) -- (1685,376);
\draw[dact] (hs_grb2) -- (hs_ras);
\draw[act] (hs_ras) -- (hs_raf1);
\draw[dact] (hs_raf1) -- (hs_erk2);
\draw[act] (hs_wnt1) -- (hs_fzd1);
\draw[cn] (hc5) -- (hs_sdc1e);
\draw[act] (hs_sdc1e.north west) -- (hs_wnt1.east);
\draw[oact] (hs_fzd1) -- (hs_pwnt1.west);
\draw[dact] (hs_pwnt1.east) -- (hs_bcat1.west);
\draw[dact] (hs_bcat1) -- (1683.4,437.6);
\draw[dact] (hs_a5b1a) -- (1296,532.7);
\draw[act] (hs_fn2.north east) -- (hs_a5b1a.west);
\draw[act] (hs_fn2.east) -- (hs_sdc2.west);
\draw[cn] (hc6) -- (hs_sdc2);
\draw[act] (hs_sdc2) -- (hs_radixin);
\draw[act] (hs_radixin) -- (hs_actin);
\draw[dact] (hs_actin) -- (1437.6,601.3);
\draw[dact] (hs_cya.east) -- (1683.4,601.3);
\draw[act] (hs_fgf2a) -- (hs_fgfr1a);
\draw[act] (hc7) -- (hs_fgf2a.south);
\draw[cn] (hc7) -- (hs_sdc4);
\draw[act] (hs_fn3.north) -- (hc7);
\draw[act] (hs_fn3.east) -- (hs_a5b1b.west);
\draw[act] (hs_fgfr1a.east) -- (hs_frs2.west);
\draw[act] (hs_fgfr1a.east) -- (hs_plcg.west);
\draw[dact] (hs_frs2) -- (hs_frs2 -| hs_grb2b.west);
\draw[act] (hs_frs2 -| hs_grb2b.east) -- (hs_sos.west);
\draw[act] (hs_sos) -- (hs_ras2);
\draw[dact] (hs_ras2) -- (hs_erk3);
\draw[cn] (hs_erk3.east) .. controls (1647,691.3) .. (1648.2,698) -- (1648.2,716) .. controls (1648.2,720.5) .. (1654.7,722.1) .. controls (1648.2,723.7) .. (1648.2,728) -- (1648.2,752) .. controls (1648.2,758.3) .. (1642,758.3);
\draw[dln] (hs_pkc.east) -- (1642,758.3);
\draw[dact] (1654.7,722.1) -- (1683.4,722.1);
\draw[act] (hs_plcg.east) -- (1413.3,718.6);
\draw[fact] (hs_plcg.east) -- (hs_pkc.west);
\draw[dact] (hs_sdc4) -- (hs_pkca);
\draw[dact] (1284.7,790.4) -- (1683.4,790.4);
\draw[act] (hs_a5b1b) -- (hs_src);
\draw[act] (hs_src) -- (hs_fak1);
\draw[act] (hs_hbegf) -- (hs_egfr);
\draw[act] (hc8) -- (hs_hbegf.south);
\draw[act] (hc8) -- (hs_fgf2b.north);
\draw[cn] (hc8) -- (hs_gpc1);
\draw[act] (hs_fgf2b) -- (hs_fgfr1b);
\draw[fact] (hs_egfr.east) -- ([yshift=3pt]hs_erk4.west);
\draw[fact] (hs_fgfr1b.east) -- ([yshift=-2pt]hs_erk4.west);
\draw[dact] (hs_erk4) -- (1683.4,981.7);
\draw[act] (hs_igf2) -- (hs_igf1r);
\draw[dact] (hs_igf1r) -- (hs_erk5);
\draw[dact, rounded corners=6pt] (hs_erk5.east) -- (1723.9,1096) -- (1723.9,1143.5);
\draw[act] (hs_gpc3a) -- (hs_igf1r);
\draw[act] (hs_gpc3a.north west) -- (hs_igf2.south east);
\draw[cn] (hc9) -- (hs_gpc3a);
\draw[act] (hc9) -- (hs_wnt.north);
\draw[act] (hs_wnt) -- (hs_fzd2);
\draw[oact] (hs_fzd2) -- (hs_pwnt2.west);
\draw[dact] (hs_pwnt2) -- (hs_bcat2);
\draw[dact] (hs_bcat2) -- (1683.4,1167.4);
\draw[cn] (hc10) -- (hs_gpc3b);
\draw[dact] (hs_gpc3b) -- (1253.9,1203.5);
\draw[dact] (1310.6,1203.4) -- (1356.5,1203.4);
\draw[dact, rounded corners=6pt] (1486.2,1203.4) -- (1723.9,1203.4) -- (1723.9,1174.4);
\draw[act] (hs_hh.north) -- (hc10);
\draw[cn] (hs_hh) -- (hs_ptch);
\draw[cn] (1131.3,1240) -- (1131.3,1254);
\draw[cn] (hs_ptch) -- (hs_smo);
\draw[dact] (hs_smo) -- (1260.9,1291.1);
\draw[dact] (hs_vegfr2a) -- (1305.2,1392.7);
\draw[act] ([xshift=-2pt]hs_vegfr2a.south) -- (hs_shp1.west);
\draw[act] (hs_a2b1b.east) -- (hs_shp1.west);
\draw[act] (hs_endo) -- (hs_a2b1b);
\draw[act, shorten >=2pt] (hs_a2b1b.east) -- (hs_camp);
\draw[act] (1245.5,1472.5) -- (hs_pka.west);
\draw[act] (hs_pka) -- (hs_fak2);
\draw[act] (hs_fak2) -- (hs_p38);
\draw[act] (hs_p38) -- (hs_hsp27);
\draw[dact] (hs_hsp27) -- (1683.4,1473.5);
\draw[dact] (hs_perl.north) -- (hs_endo.south);
\draw[act] (hs_perl.south east) -- (hs_a2b1c.west);
\draw[cn] (hs_perl) -- (hc11);
\draw[act] (hc11) -- (hs_vegfa);
\draw[act] (hs_vegfa) -- (hs_vegfr2b);
\draw[oact] (hs_vegfr2b) -- (hs_pvegf.west);
\draw[dln, rounded corners=6pt] ([xshift=10pt]hs_a2b1c.east) -- (1434.9,1539.5) -- (1434.9,1591.4) -- (hs_pvegf.east);
\draw[dact] (1434.9,1565.2) -- (1536.4,1565.2);
\end{tikzpicture}
\end{document}
